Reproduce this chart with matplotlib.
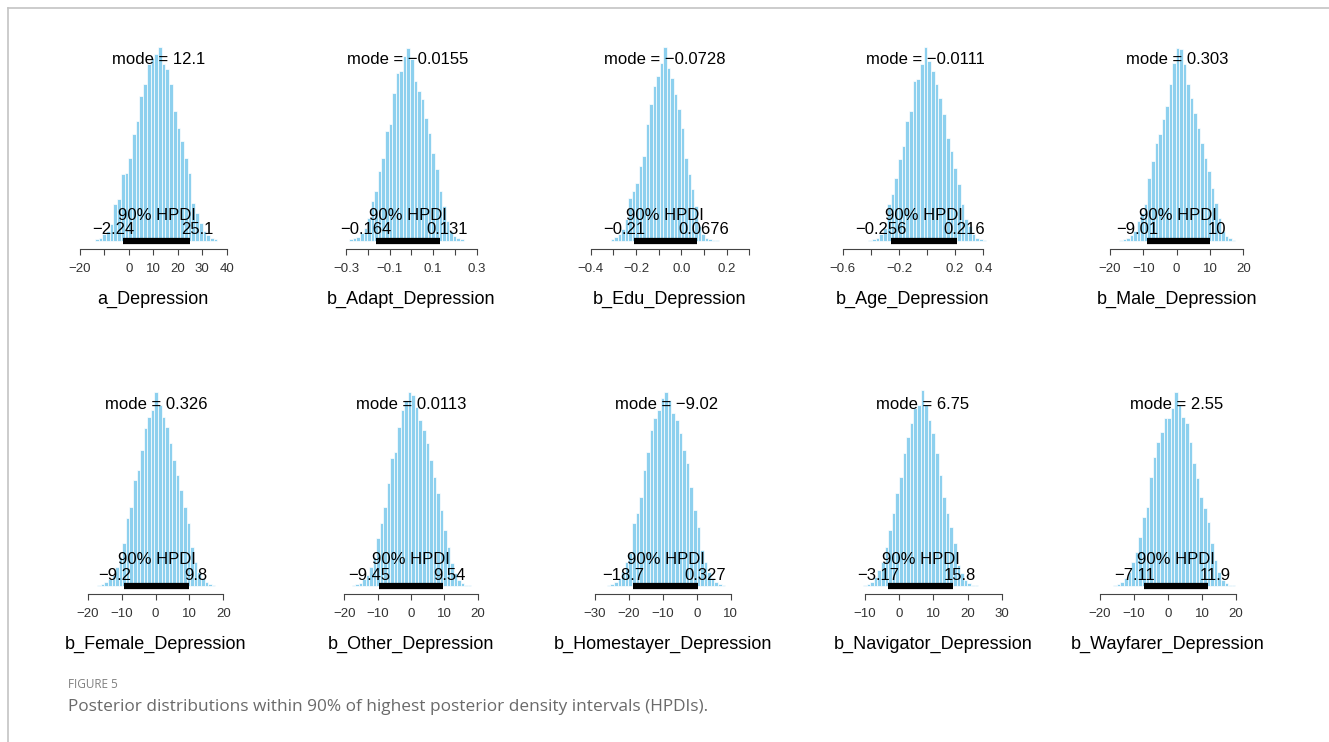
import matplotlib
matplotlib.use("Agg")
import matplotlib.pyplot as plt

# ---- data ----
params = ["a_Depression", "b_Adapt_Depression", "b_Edu_Depression", "b_Age_Depression",
          "b_Male_Depression", "b_Female_Depression", "b_Other_Depression",
          "b_Homestayer_Depression", "b_Navigator_Depression", "b_Wayfarer_Depression"]
modes = [12.1, -0.0155, -0.0728, -0.0111, 0.303, 0.326, 0.0113, -9.02, 6.75, 2.55]
hdi_lo = [-2.24, -0.164, -0.21, -0.256, -9.01, -9.2, -9.45, -18.7, -3.17, -7.11]
hdi_hi = [25.1, 0.131, 0.0676, 0.216, 10, 9.8, 9.54, 0.327, 15.8, 11.9]
hist_start = [-13.9, -0.285, -0.312, -0.417, -17.2, -17.2, -17.8, -26.5, -10.6, -16.1]

# bar heights (arbitrary count units), left to right
h_a = [5, 10, 20, 30, 50, 110, 125, 200, 205, 250, 320, 360, 435, 470, 530, 550, 560,
       583, 530, 515, 470, 390, 340, 300, 250, 205, 115, 85, 55, 30, 18, 10, 5]
h_adapt = [5, 8, 12, 25, 40, 70, 120, 150, 210, 250, 330, 350, 445, 505, 510, 555, 580,
           545, 480, 450, 425, 370, 325, 265, 215, 150, 105, 60, 30, 15, 10, 5]
h_edu = [5, 12, 20, 35, 65, 130, 150, 175, 225, 255, 350, 410, 465, 495, 535, 582,
         520, 490, 440, 395, 340, 250, 200, 155, 105, 45, 20, 10, 7, 4, 2, 1]
h_age = [2, 5, 10, 20, 40, 110, 140, 190, 245, 285, 360, 390, 480, 485, 530, 583,
         540, 510, 470, 430, 380, 310, 270, 220, 170, 110, 65, 45, 20, 10, 5, 2]
h_male = [2, 5, 10, 18, 30, 60, 85, 110, 190, 240, 295, 320, 365, 405, 470, 535, 580,
          575, 530, 470, 430, 385, 340, 295, 250, 210, 160, 115, 70, 30, 15, 8, 2]
h_female = [2, 6, 13, 20, 33, 58, 88, 128, 203, 238, 318, 348, 408, 473, 508, 528, 583,
            543, 508, 478, 428, 378, 333, 288, 238, 188, 118, 73, 43, 23, 13, 6, 3, 1]
h_other = [2, 5, 10, 20, 33, 58, 88, 143, 188, 238, 308, 383, 403, 478, 528, 558, 583,
           573, 538, 498, 468, 428, 378, 328, 278, 228, 168, 118, 68, 38, 18, 8, 4, 2, 1]
h_home = [2, 6, 13, 23, 43, 73, 98, 188, 218, 268, 348, 403, 468, 503, 528, 563, 583,
          558, 518, 498, 458, 408, 368, 298, 228, 178, 108, 73, 43, 23, 13, 6, 3, 1]
h_nav = [2, 6, 13, 28, 48, 73, 118, 168, 218, 278, 328, 398, 448, 488, 533, 543, 588,
         543, 498, 458, 398, 333, 268, 218, 178, 128, 63, 38, 18, 8, 4, 2, 1]
h_way = [2, 6, 13, 23, 43, 73, 103, 148, 208, 238, 328, 388, 433, 463, 503, 503, 533,
         583, 543, 508, 488, 433, 368, 323, 268, 233, 193, 128, 78, 43, 18, 8, 4, 2, 1]
heights = [h_a, h_adapt, h_edu, h_age, h_male, h_female, h_other, h_home, h_nav, h_way]

tick_vals = [[-20, -10, 0, 10, 20, 30, 40],
             [-0.3, -0.2, -0.1, 0.0, 0.1, 0.2, 0.3],
             [-0.4, -0.3, -0.2, -0.1, 0.0, 0.1, 0.2, 0.3],
             [-0.6, -0.4, -0.2, 0.0, 0.2, 0.4],
             [-20, -10, 0, 10, 20],
             [-20, -10, 0, 10, 20],
             [-20, -10, 0, 10, 20],
             [-30, -20, -10, 0, 10],
             [-10, 0, 10, 20, 30],
             [-20, -10, 0, 10, 20]]
tick_labels = [["-20", "", "0", "10", "20", "30", "40"],
               ["-0.3", "", "-0.1", "", "0.1", "", "0.3"],
               ["-0.4", "", "-0.2", "", "0.0", "", "0.2", ""],
               ["-0.6", "", "-0.2", "", "0.2", "0.4"],
               ["-20", "-10", "0", "10", "20"],
               ["-20", "-10", "0", "10", "20"],
               ["-20", "-10", "0", "10", "20"],
               ["-30", "-20", "-10", "0", "10"],
               ["-10", "0", "10", "20", "30"],
               ["-20", "-10", "0", "10", "20"]]

# ---- layout (pixels) ----
W, H = 1329, 742
tick_px = [(80, 226.7), (346, 476.7), (590.7, 749.3), (842.7, 983.3), (1110, 1243.3),
           (87.7, 223.3), (344.3, 477.7), (595, 730.7), (865, 1001.7), (1100, 1236)]
base_px = [241] * 5 + [586] * 5
top_units = 633  # data units of the axes top (3 units per pixel)

plt.rcParams['font.family'] = ['Liberation Sans', 'DejaVu Sans']
fig = plt.figure(figsize=(W / 100, H / 100), dpi=100)


def fmt(v):
    return ('%.3g' % v).replace('-', '\u2212')


for i, name in enumerate(params):
    x0, x1 = tick_px[i]
    ax_h = top_units / 3
    ax = fig.add_axes([x0 / W, 1 - base_px[i] / H, (x1 - x0) / W, ax_h / H])
    t = tick_vals[i]
    ax.set_xlim(t[0], t[-1])
    ax.set_ylim(0, top_units)

    bw = (hdi_hi[i] - hdi_lo[i]) / 18
    lefts = [hist_start[i] + k * bw for k in range(len(heights[i]))]
    ax.bar(lefts, heights[i], width=bw, align='edge', color='#8DD0EE',
           edgecolor='white', linewidth=0.5, clip_on=False, zorder=1)
    ax.plot([hdi_lo[i], hdi_hi[i]], [0, 0], color='black', lw=4.5,
            solid_capstyle='butt', clip_on=False, zorder=3)

    ax.text(modes[i], 545, 'mode = ' + fmt(modes[i]), ha='center', va='center',
            fontsize=12, zorder=4)
    ax.text((hdi_lo[i] + hdi_hi[i]) / 2, 78, '90% HPDI', ha='center', va='center',
            fontsize=12, zorder=4)
    ax.annotate(fmt(hdi_lo[i]), (hdi_lo[i], 33), xytext=(-7, 0), textcoords='offset points',
                ha='center', va='center', fontsize=12, zorder=4)
    ax.annotate(fmt(hdi_hi[i]), (hdi_hi[i], 33), xytext=(5, 0), textcoords='offset points',
                ha='center', va='center', fontsize=12, zorder=4)

    for s in ['top', 'right', 'left']:
        ax.spines[s].set_visible(False)
    ax.spines['bottom'].set_position(('outward', 5.8))
    ax.spines['bottom'].set_bounds(t[0], t[-1])
    ax.spines['bottom'].set_color('#444444')
    ax.spines['bottom'].set_linewidth(0.8)
    ax.set_yticks([])
    ax.set_xticks(t)
    ax.set_xticklabels([s.replace('-', '\u2212') for s in tick_labels[i]])
    ax.tick_params(axis='x', length=4.3, width=0.8, color='#444444', labelsize=9.5,
                   labelcolor='#333333', pad=6)
    ax.patch.set_visible(False)
    ax.text(0.5, -0.275, name, transform=ax.transAxes, ha='center', va='center',
            fontsize=13)

# frame lines of the figure box
fig.add_artist(plt.Line2D([8 / W, 1], [1 - 8 / H, 1 - 8 / H], color='#c4c4c4', lw=1.2))
fig.add_artist(plt.Line2D([8 / W, 8 / W], [0, 1 - 8 / H], color='#c4c4c4', lw=1.2))

fig.text(68 / W, 1 - 685 / H, 'FIGURE 5', family='Open Sans', fontsize=8.5,
         color='#808080', va='center', ha='left')
fig.text(68 / W, 1 - 707 / H,
         'Posterior distributions within 90% of highest posterior density intervals (HPDIs).',
         family='Open Sans', fontsize=12.4, color='#6a6a6a', va='center', ha='left')

fig.savefig('out.png', dpi=100)
